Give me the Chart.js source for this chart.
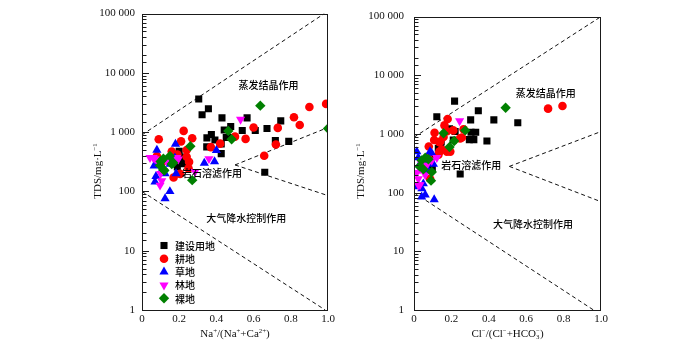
<!DOCTYPE html>
<html>
<head>
<meta charset="utf-8">
<script src="https://cdn.jsdelivr.net/npm/chart.js@4.4.1/dist/chart.umd.min.js"></script>
<style>
  body { margin: 0; background: #fff; }
  #wrap { position: relative; width: 700px; height: 345px; }
  canvas { position: absolute; top: 0; }
</style>
</head>
<body>
<div id="wrap">
  <canvas id="naChart" width="350" height="345" style="left:0"></canvas>
  <canvas id="clChart" width="350" height="345" style="left:350px"></canvas>
</div>
<script>
// land-use groups
var landUse = ['建设用地', '耕地', '草地', '林地', '裸地'];

// Na+/(Na+ + Ca2+) vs TDS (mg/L)
var naBuilt = [[0.305,3630],[0.357,2480],[0.323,1970],[0.43,1740],[0.565,1740],[0.746,1550],[0.477,1250],[0.442,1090],[0.539,1070],[0.609,1070],[0.672,1150],[0.373,910],[0.349,800],[0.392,740],[0.453,810],[0.477,810],[0.426,630],[0.717,720],[0.789,700],[0.348,565],[0.426,435],[0.2,475],[0.215,380],[0.66,210],[0.224,293],[0.21,330],[0.19,260]];
var naFarm = [[0.99,3000],[0.9,2650],[0.817,1780],[0.848,1320],[0.6,1200],[0.73,1180],[0.5,840],[0.557,770],[0.72,620],[0.657,400],[0.224,1050],[0.09,760],[0.21,700],[0.27,790],[0.42,640],[0.37,560],[0.16,470],[0.24,500],[0.24,385],[0.253,315],[0.25,245],[0.08,395],[0.17,172],[0.205,198],[0.12,330],[0.19,420]];
var naGrass = [[0.08,500],[0.18,630],[0.4,495],[0.39,320],[0.335,300],[0.075,180],[0.124,200],[0.15,100],[0.124,76],[0.177,370],[0.15,290],[0.065,270],[0.07,145],[0.183,200],[0.097,305],[0.11,240]];
var naForest = [[0.53,1640],[0.36,355],[0.285,215],[0.097,127],[0.06,370],[0.088,305],[0.106,150],[0.195,350],[0.07,355],[0.043,370],[0.186,370],[0.1,200],[0.13,330]];
var naBare = [[0.636,2800],[1.0,1150],[0.464,1050],[0.482,760],[0.26,580],[0.115,355],[0.15,395],[0.168,305],[0.097,275],[0.27,155],[0.16,290],[0.115,235],[0.12,225],[0.1,320]];

// Cl-/(Cl- + HCO3-) vs TDS (mg/L)
var clBuilt = [[0.217,3630],[0.344,2480],[0.122,1970],[0.303,1740],[0.427,1740],[0.555,1550],[0.19,1220],[0.22,1100],[0.305,1070],[0.33,1070],[0.21,790],[0.296,800],[0.32,800],[0.39,760],[0.145,740],[0.143,700],[0.13,570],[0.086,420],[0.247,208],[0.098,265]];
var clFarm = [[0.717,2700],[0.794,3000],[0.18,1800],[0.11,1050],[0.21,1150],[0.265,1200],[0.247,840],[0.136,720],[0.079,610],[0.176,500],[0.136,500],[0.163,1400],[0.256,870],[0.14,740],[0.108,790],[0.158,890],[0.149,540],[0.131,445],[0.194,500],[0.077,395],[0.086,172],[0.176,1110]];
var clGrass = [[0.015,500],[0.086,500],[0.023,395],[0.05,142],[0.06,92],[0.108,76],[0.077,235],[0.104,305],[0.095,470],[0.042,117],[0.041,85],[0.018,127],[0.03,300],[0.07,350]];
var clForest = [[0.244,1670],[0.122,395],[0.05,355],[0.032,135],[0.023,172],[0.068,290],[0.095,355],[0.032,250],[0.06,200],[0.023,135],[0.04,310],[0.015,220]];
var clBare = [[0.49,2800],[0.158,1030],[0.274,1150],[0.215,760],[0.19,600],[0.06,395],[0.041,355],[0.095,225],[0.05,250],[0.077,370],[0.091,160],[0.03,280]];

// Gibbs boundary lines (dashed)
var naBounds = [[[0,900],[0.98,100000]], [[0.5,280],[1,1200]], [[0.5,280],[1,85]], [[0,100],[0.985,1]]];
var clBounds = [[[0,880],[1,100000]], [[0.51,280],[1,1100]], [[0.51,280],[1,70]], [[0,100],[0.96,1]]];

var yTicks = [1, 10, 100, 1000, 10000, 100000];
var xTicks = [0, 0.2, 0.4, 0.6, 0.8, 1.0];

var markers = [
  { pointStyle: 'rect', color: '#000000', radius: 5, rotation: 0 },
  { pointStyle: 'circle', color: '#ff0000', radius: 4.3, rotation: 0 },
  { pointStyle: 'triangle', color: '#0000ff', radius: 5.3, rotation: 0 },
  { pointStyle: 'triangle', color: '#ff00ff', radius: 5.3, rotation: 180 },
  { pointStyle: 'rectRot', color: '#008000', radius: 5.2, rotation: 0 }
];

var serif = '"Liberation Serif", "Times New Roman", serif';
var cjk = '"Noto Sans CJK SC", sans-serif';

function fmtThousands(v) {
  return String(v).replace(/\B(?=(\d{3})+(?!\d))/g, ' ');
}

function isDecade(v) {
  return yTicks.indexOf(v) >= 0;
}

function buildDatasets(groups, bounds) {
  var sets = groups.map(function (pts, i) {
    var m = markers[i];
    return {
      label: landUse[i],
      data: pts.map(function (p) { return { x: p[0], y: p[1] }; }),
      pointStyle: m.pointStyle,
      pointRotation: m.rotation,
      pointRadius: m.radius,
      backgroundColor: m.color,
      borderColor: m.color,
      borderWidth: 0,
      showLine: false,
      order: 5 - i
    };
  });
  bounds.forEach(function (seg) {
    sets.push({
      label: '',
      data: seg.map(function (p) { return { x: p[0], y: p[1] }; }),
      showLine: true,
      borderColor: '#111',
      borderWidth: 1,
      borderDash: [4, 3],
      pointRadius: 0,
      fill: false,
      order: 10
    });
  });
  return sets;
}

// text with superscripts / subscripts; part = [text, shift(1 sup, -1 sub), stackOnPrevious]
function layoutRich(ctx, parts, size) {
  var x = 0, prevX = 0, prevW = 0, items = [];
  parts.forEach(function (p) {
    var s = p[1] ? size * 0.62 : size;
    ctx.font = s + 'px ' + serif;
    var w = ctx.measureText(p[0]).width;
    var dy = p[1] === 1 ? -size * 0.38 : (p[1] === -1 ? size * 0.22 : 0);
    if (p[2]) {
      items.push({ t: p[0], x: prevX, s: s, dy: dy });
      x = prevX + Math.max(prevW, w);
    } else {
      items.push({ t: p[0], x: x, s: s, dy: dy });
      prevX = x; prevW = w; x += w;
    }
  });
  return { items: items, width: x };
}

function drawRich(ctx, parts, cx, baseY, size) {
  var lay = layoutRich(ctx, parts, size);
  var x0 = cx - lay.width / 2;
  ctx.textAlign = 'left';
  ctx.textBaseline = 'alphabetic';
  lay.items.forEach(function (it) {
    ctx.font = it.s + 'px ' + serif;
    ctx.fillText(it.t, x0 + it.x, baseY + it.dy);
  });
}

function decorPlugin(cfg) {
  return {
    id: 'decor',
    afterDatasetsDraw: function (chart) {
      var ctx = chart.ctx, a = chart.chartArea;
      var xs = chart.scales.x, ys = chart.scales.y;
      ctx.save();

      // frame and inward ticks on the TDS axis
      ctx.strokeStyle = '#1a1a1a';
      ctx.lineWidth = 1;
      ctx.strokeRect(Math.round(a.left) + 0.5, Math.round(a.top) + 0.5,
        Math.round(a.right - a.left) - 1, Math.round(a.bottom - a.top));
      ys.ticks.forEach(function (t) {
        var py = Math.round(ys.getPixelForValue(t.value)) + 0.5;
        ctx.beginPath();
        ctx.moveTo(a.left, py);
        ctx.lineTo(a.left + (isDecade(t.value) ? 7 : 4.5), py);
        ctx.stroke();
      });

      // region labels
      ctx.fillStyle = '#000';
      ctx.font = '500 10px ' + cjk;
      ctx.textAlign = 'center';
      ctx.textBaseline = 'middle';
      cfg.regions.forEach(function (r) {
        ctx.fillText(r.text, xs.getPixelForValue(r.x), ys.getPixelForValue(r.y));
      });

      // legend
      if (cfg.legend) {
        ctx.textAlign = 'left';
        landUse.forEach(function (name, i) {
          var m = markers[i];
          var ly = a.bottom - 64.5 + i * 13.2;
          var lx = a.left + 22;
          ctx.fillStyle = m.color;
          Chart.helpers.drawPoint(ctx, { pointStyle: m.pointStyle, radius: m.radius, rotation: m.rotation, borderWidth: 0 }, lx, ly);
          ctx.fillStyle = '#000';
          ctx.font = '500 10px ' + cjk;
          ctx.fillText(name, lx + 11, ly + 0.5);
        });
      }

      // axis titles
      ctx.fillStyle = '#111';
      drawRich(ctx, cfg.xTitle, (a.left + a.right) / 2, a.bottom + 27, 11);
      ctx.save();
      ctx.translate(a.left - cfg.yTitleOffset, 171);
      ctx.rotate(-Math.PI / 2);
      drawRich(ctx, [['TDS/mg·L', 0], ['−1', 1]], 0, 4, 11);
      ctx.restore();

      ctx.restore();
    }
  };
}

function makeChart(id, groups, bounds, cfg) {
  return new Chart(document.getElementById(id), {
    type: 'scatter',
    data: { datasets: buildDatasets(groups, bounds) },
    options: {
      responsive: false,
      animation: false,
      layout: { padding: { left: 0, right: cfg.padRight, top: 8, bottom: 0 } },
      plugins: { legend: { display: false }, tooltip: { enabled: false } },
      scales: {
        x: {
          type: 'linear', min: 0, max: 1,
          afterFit: function (s) { s.height = 35; },
          afterBuildTicks: function (s) { s.ticks = xTicks.map(function (v) { return { value: v }; }); },
          grid: { display: false, drawTicks: false },
          border: { display: false },
          ticks: {
            padding: 3, color: '#111', font: { family: serif, size: 11 },
            callback: function (v) { return v === 0 ? '0' : v.toFixed(1); }
          }
        },
        y: {
          type: 'logarithmic', min: 1, max: 100000,
          afterFit: function (s) { s.width = cfg.yWidth; },
          grid: { display: false, drawTicks: false },
          border: { display: false },
          ticks: {
            autoSkip: false, padding: cfg.tickPad, color: '#111', font: { family: serif, size: 11 },
            callback: function (v) { return isDecade(v) ? fmtThousands(v) : ''; }
          }
        }
      }
    },
    plugins: [decorPlugin(cfg)]
  });
}

makeChart('naChart', [naBuilt, naFarm, naGrass, naForest, naBare], naBounds, {
  yWidth: 142, padRight: 22, tickPad: 7, yTitleOffset: 45, legend: true,
  xTitle: [['Na', 0], ['+', 1], ['/(Na', 0], ['+', 1], ['+Ca', 0], ['2+', 1], [')', 0]],
  regions: [
    { text: '蒸发结晶作用', x: 0.68, y: 6200 },
    { text: '岩石溶滤作用', x: 0.376, y: 205 },
    { text: '大气降水控制作用', x: 0.56, y: 35 }
  ]
});

makeChart('clChart', [clBuilt, clFarm, clGrass, clForest, clBare], clBounds, {
  yWidth: 64, padRight: 99, tickPad: 10, yTitleOffset: 54, legend: false,
  xTitle: [['Cl', 0], ['−', 1], ['/(Cl', 0], ['−', 1], ['+HCO', 0], ['3', -1], ['−', 1, true], [')', 0]],
  regions: [
    { text: '蒸发结晶作用', x: 0.704, y: 4900 },
    { text: '岩石溶滤作用', x: 0.306, y: 288 },
    { text: '大气降水控制作用', x: 0.637, y: 29 }
  ]
});
</script>
</body>
</html>
